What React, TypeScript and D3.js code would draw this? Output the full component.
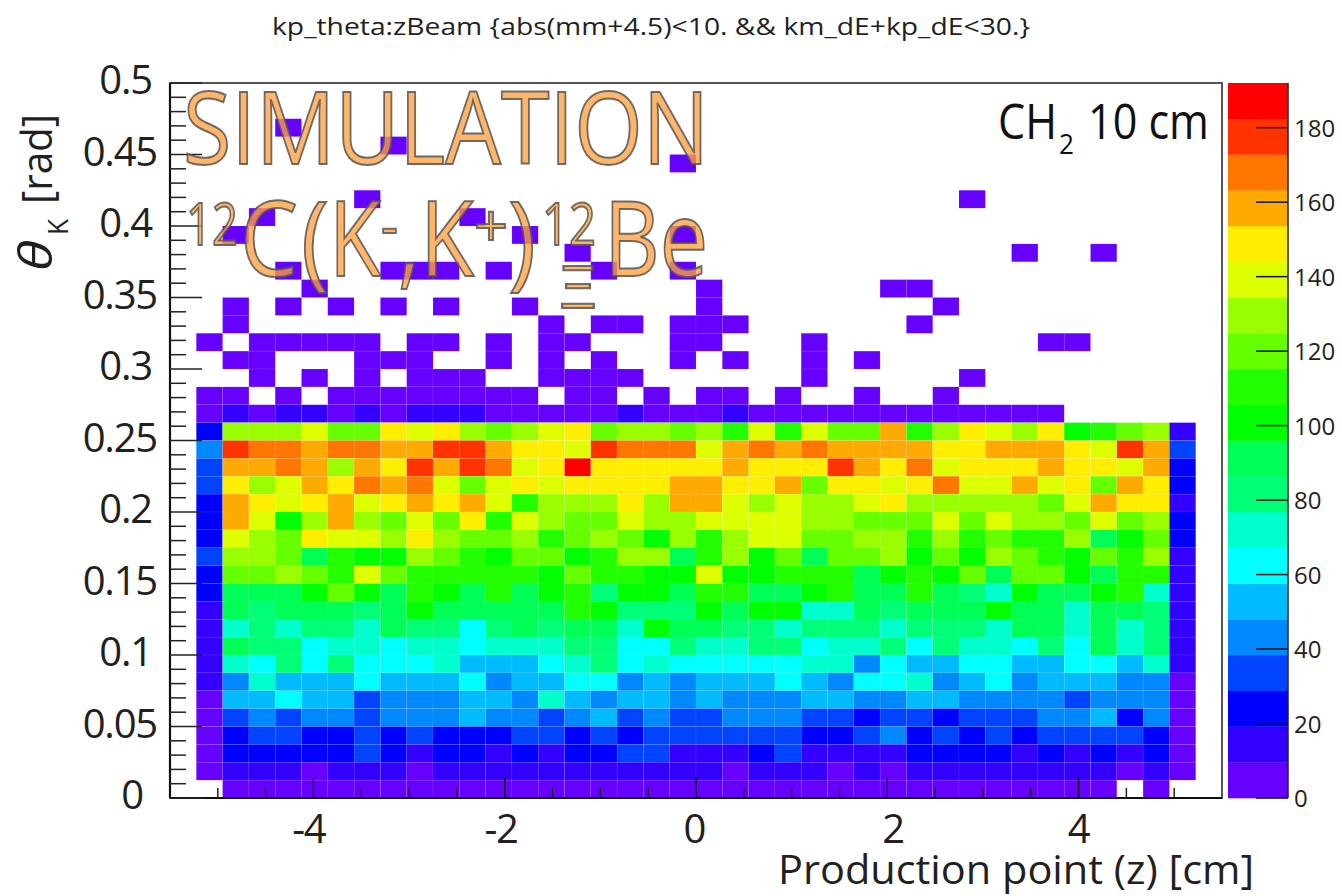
import React, { useEffect, useRef } from 'react'
import * as d3 from 'd3'

const WIDTH = 1342
const HEIGHT = 896
const FONT = '"Open Sans", sans-serif'
const INK = '#231f20'

const titleText = 'kp_theta:zBeam {abs(mm+4.5)<10. && km_dE+kp_dE<30.}'

// ROOT rainbow palette as printed on the colour bar, bottom to top
const palette = [
  '#6600ff', '#3300ff', '#0000ff', '#0044ff', '#0088ff', '#00bbff', '#00ffff', '#00ffcc', '#00ff77', '#00ff55',
  '#00ff00', '#22ff00', '#66ff00', '#99ff00', '#ddff00', '#ffee00', '#ffaa00', '#ff7700', '#ff3300', '#ff0000',
]
const zMax = 192
const zTicks = [0, 20, 40, 60, 80, 100, 120, 140, 160, 180]
const xMajor = [-4, -2, 0, 2, 4]
const xMinor = [-5, -4.5, -3.5, -3, -2.5, -1.5, -1, -0.5, 0.5, 1, 1.5, 2.5, 3, 3.5, 4.5, 5]
const yMajor = ['0', '0.05', '0.1', '0.15', '0.2', '0.25', '0.3', '0.35', '0.4', '0.45', '0.5']
const xLabels = [
  { label: '-4', at: -4.05 },
  { label: '-2', at: -2.04 },
  { label: '0', at: -0.02 },
  { label: '2', at: 2.06 },
  { label: '4', at: 4 },
]

// rows counted from the top of the 40x40 histogram
// upper tail: single-band cells, list of occupied columns per row
const tailRows: [number, number[]][] = [
  [2, [4]],
  [3, [8]],
  [4, [19]],
  [6, [7, 30]],
  [7, [3, 11]],
  [8, [2, 13, 19]],
  [9, [15, 32, 35]],
  [10, [4, 8, 9, 10, 12, 16, 19]],
  [11, [5, 20, 27, 28]],
  [12, [2, 4, 6, 8, 10, 13, 20, 29]],
  [13, [2, 14, 16, 17, 19, 20, 21, 28]],
  [14, [1, 3, 4, 5, 6, 7, 9, 10, 12, 14, 15, 19, 20, 24, 33, 34]],
  [15, [2, 3, 7, 8, 9, 12, 14, 16, 19, 21, 24, 26]],
  [16, [3, 5, 7, 9, 10, 11, 14, 15, 16, 17, 24, 30]],
  [17, [1, 2, 4, 6, 7, 8, 9, 10, 11, 12, 13, 15, 16, 18, 20, 21, 23, 26, 29]],
]
const tailCount = 5

// main body: counts for columns 1..38, first row is row 18
const row18 = [5, 14, 5, 14, 14, 5, 14, 5, 14, 14, 14, 5, 5, 5, 5, 5, 14, 5, 5, 5, 14, 5, 5, 5, 5, 5, 5, 5, 5, 5, 5, 5, 5, 0, 0, 0, 0, 0]
const row19 = [24, 130, 130, 130, 139, 120, 120, 149, 139, 149, 130, 120, 130, 139, 149, 120, 130, 130, 120, 130, 110, 139, 110, 139, 120, 120, 158, 110, 130, 149, 139, 130, 149, 101, 110, 120, 130, 14]
const row20 = [43, 178, 168, 168, 158, 168, 168, 158, 158, 178, 178, 158, 149, 149, 139, 178, 168, 168, 168, 139, 158, 168, 158, 168, 158, 158, 158, 158, 149, 149, 158, 158, 158, 149, 139, 178, 158, 34]
const row21 = [34, 158, 158, 168, 158, 130, 158, 149, 178, 158, 178, 168, 139, 149, 187, 149, 149, 149, 149, 149, 158, 149, 149, 149, 178, 158, 149, 168, 139, 149, 149, 149, 158, 149, 149, 139, 158, 24]
const row22 = [34, 149, 130, 139, 158, 149, 168, 158, 168, 139, 120, 139, 149, 139, 149, 149, 149, 149, 158, 158, 149, 149, 158, 120, 149, 149, 139, 149, 168, 139, 139, 158, 139, 149, 120, 158, 149, 24]
const row23 = [24, 158, 149, 139, 149, 158, 139, 149, 158, 149, 158, 139, 110, 130, 130, 130, 149, 130, 158, 158, 139, 130, 139, 130, 130, 139, 149, 130, 130, 130, 130, 130, 120, 139, 158, 149, 149, 14]
const row24 = [24, 158, 139, 101, 130, 158, 130, 120, 139, 120, 149, 110, 139, 130, 120, 120, 139, 130, 130, 139, 139, 139, 139, 130, 130, 120, 120, 120, 139, 120, 139, 130, 130, 120, 139, 120, 130, 24]
const row25 = [24, 139, 130, 120, 149, 139, 139, 130, 149, 130, 120, 120, 130, 110, 120, 130, 120, 101, 130, 110, 130, 139, 139, 120, 120, 130, 130, 110, 130, 110, 120, 110, 110, 130, 91, 101, 120, 24]
const row26 = [34, 130, 130, 120, 91, 110, 101, 101, 130, 120, 110, 101, 120, 120, 101, 110, 130, 130, 91, 110, 130, 101, 120, 91, 120, 120, 130, 101, 120, 101, 130, 120, 110, 101, 120, 110, 130, 14]
const row27 = [24, 120, 120, 130, 120, 110, 139, 120, 110, 110, 110, 110, 110, 101, 120, 110, 110, 101, 101, 139, 101, 101, 110, 110, 110, 91, 101, 110, 101, 120, 91, 120, 120, 101, 91, 110, 110, 14]
const row28 = [24, 91, 91, 91, 101, 120, 101, 91, 110, 101, 91, 110, 91, 101, 110, 82, 101, 101, 91, 110, 110, 91, 91, 101, 110, 91, 91, 110, 91, 82, 72, 101, 91, 91, 101, 110, 72, 14]
const row29 = [14, 91, 82, 91, 91, 91, 82, 91, 101, 91, 91, 91, 91, 91, 110, 101, 82, 82, 82, 101, 91, 101, 101, 72, 72, 91, 82, 91, 91, 91, 101, 91, 91, 72, 91, 91, 82, 14]
const row30 = [14, 72, 82, 72, 82, 82, 72, 91, 82, 82, 62, 82, 91, 82, 91, 91, 72, 101, 91, 91, 82, 82, 72, 82, 82, 82, 72, 82, 82, 82, 72, 91, 91, 72, 91, 72, 82, 14]
const row31 = [14, 91, 82, 82, 62, 72, 72, 62, 72, 72, 62, 72, 72, 72, 82, 82, 62, 62, 82, 72, 72, 82, 82, 62, 72, 72, 82, 62, 82, 72, 72, 62, 82, 62, 91, 72, 82, 14]
const row32 = [14, 72, 62, 82, 62, 82, 62, 62, 62, 72, 53, 53, 53, 62, 72, 82, 62, 72, 62, 62, 62, 62, 62, 72, 72, 43, 62, 53, 53, 62, 62, 53, 53, 62, 62, 53, 72, 14]
const row33 = [14, 43, 72, 53, 53, 53, 62, 53, 53, 53, 62, 43, 53, 53, 62, 62, 43, 53, 43, 53, 53, 53, 62, 53, 43, 62, 62, 72, 43, 53, 62, 43, 53, 53, 53, 43, 43, 5]
const row34 = [5, 53, 53, 62, 53, 53, 34, 43, 43, 43, 53, 53, 43, 72, 53, 43, 53, 53, 43, 53, 43, 43, 43, 53, 53, 43, 43, 53, 53, 43, 43, 43, 43, 34, 43, 43, 43, 5]
const row35 = [5, 34, 43, 34, 43, 43, 34, 43, 43, 43, 53, 43, 43, 34, 43, 53, 34, 43, 34, 34, 43, 43, 43, 34, 34, 24, 34, 34, 24, 34, 34, 34, 43, 43, 53, 24, 43, 5]
const row36 = [5, 24, 34, 34, 24, 24, 34, 24, 34, 24, 24, 24, 34, 34, 24, 34, 24, 34, 34, 34, 34, 34, 34, 24, 24, 34, 43, 24, 34, 24, 34, 24, 34, 34, 34, 34, 24, 5]
const row37 = [5, 24, 24, 24, 24, 24, 34, 24, 14, 24, 24, 14, 24, 14, 24, 24, 34, 34, 14, 14, 14, 24, 34, 14, 14, 14, 14, 24, 24, 24, 24, 14, 24, 14, 24, 14, 24, 5]
const row38 = [5, 14, 14, 14, 5, 14, 14, 14, 5, 14, 14, 14, 14, 14, 14, 14, 14, 14, 14, 14, 5, 14, 14, 14, 5, 14, 5, 14, 14, 14, 14, 14, 14, 14, 14, 5, 14, 5]
const row39 = [0, 5, 5, 5, 5, 5, 5, 5, 5, 5, 5, 5, 5, 5, 5, 5, 5, 5, 5, 5, 5, 5, 5, 5, 5, 5, 5, 5, 5, 5, 5, 5, 5, 5, 5, 0, 5, 0]
const bodyRows = [row18, row19, row20, row21, row22, row23, row24, row25, row26, row27, row28, row29, row30, row31, row32, row33, row34, row35, row36, row37, row38, row39]

const App = () => {
  const ref = useRef<SVGSVGElement>(null)

  useEffect(() => {
    const svg = d3.select(ref.current)
    svg.selectAll('*').remove()

    const plot = { left: 170, right: 1222, top: 83, bottom: 798 }
    const x = d3.scaleLinear().domain([-5.5, 5.5]).range([plot.left, plot.right])
    const y = d3.scaleLinear().domain([0, 0.5]).range([plot.bottom, plot.top])
    const col = d3.scaleBand<number>().domain(d3.range(40)).range([plot.left, plot.right])
    const row = d3.scaleBand<number>().domain(d3.range(40)).range([plot.top, plot.bottom])
    const z = d3.scaleLinear().domain([0, zMax]).range([plot.bottom, plot.top])
    const color = d3.scaleQuantize<string>().domain([0, zMax]).range(palette)

    const cells: { r: number; c: number; v: number }[] = []
    tailRows.forEach(([r, cols]) => cols.forEach((c) => cells.push({ r, c, v: tailCount })))
    bodyRows.forEach((vals, i) => vals.forEach((v, j) => {
      if (v > 0) cells.push({ r: 18 + i, c: j + 1, v })
    }))

    // title
    svg.append('text')
      .attr('x', 651).attr('y', 35)
      .attr('text-anchor', 'middle')
      .attr('textLength', 758).attr('lengthAdjust', 'spacingAndGlyphs')
      .style('font-family', FONT).style('font-size', '23px').attr('fill', INK)
      .text(titleText)

    // histogram cells, faint seams as in the exported raster
    svg.append('g').selectAll('rect').data(cells).enter().append('rect')
      .attr('x', (d) => col(d.c)!)
      .attr('y', (d) => row(d.r)!)
      .attr('width', col.bandwidth())
      .attr('height', row.bandwidth())
      .attr('fill', (d) => color(d.v))
      .attr('stroke', '#ffffff').attr('stroke-opacity', 0.1).attr('stroke-width', 0.7)

    // frame
    svg.append('rect')
      .attr('x', plot.left).attr('y', plot.top)
      .attr('width', plot.right - plot.left).attr('height', plot.bottom - plot.top)
      .attr('fill', 'none').attr('stroke', '#444').attr('stroke-width', 1.8)
    svg.append('line')
      .attr('x1', plot.left).attr('x2', plot.right).attr('y1', plot.bottom).attr('y2', plot.bottom)
      .attr('stroke', '#111').attr('stroke-width', 2.2)
    svg.append('line')
      .attr('x1', plot.left).attr('x2', plot.left).attr('y1', plot.top).attr('y2', plot.bottom)
      .attr('stroke', '#111').attr('stroke-width', 2.2)

    // y axis ticks
    const yTicks = d3.range(0, 51).map((i) => i / 100)
    svg.append('g').selectAll('line').data(yTicks).enter().append('line')
      .attr('x1', plot.left)
      .attr('x2', (_, i) => plot.left + (i % 5 === 0 ? 32 : 16))
      .attr('y1', (d) => y(d)).attr('y2', (d) => y(d))
      .attr('stroke', '#222').attr('stroke-width', 1.5)
    svg.append('g').selectAll('text').data(yMajor).enter().append('text')
      .attr('x', (d) => (d.length === 4 ? 157 : d.length === 3 ? 152 : 143))
      .attr('y', (d) => y(+d) + 11)
      .attr('text-anchor', 'end')
      .style('font-family', FONT).style('font-size', '40px').attr('fill', INK)
      .attr('letter-spacing', -1.2)
      .text((d) => d)

    // x axis ticks
    svg.append('g').selectAll('line').data(xMinor).enter().append('line')
      .attr('x1', (d) => x(d)).attr('x2', (d) => x(d))
      .attr('y1', plot.bottom).attr('y2', plot.bottom - 10)
      .attr('stroke', '#222').attr('stroke-width', 1.5)
    svg.append('g').selectAll('line').data(xMajor).enter().append('line')
      .attr('x1', (d) => x(d)).attr('x2', (d) => x(d))
      .attr('y1', plot.bottom).attr('y2', plot.bottom - 21)
      .attr('stroke', '#111').attr('stroke-width', 1.5)
    svg.append('g').selectAll('text').data(xLabels).enter().append('text')
      .attr('x', (d) => x(d.at))
      .attr('y', 843)
      .attr('text-anchor', 'middle')
      .style('font-family', FONT).style('font-size', '40px').attr('fill', INK)
      .attr('letter-spacing', -1.5)
      .text((d) => d.label)

    // axis titles
    svg.append('text')
      .attr('x', 778).attr('y', 884)
      .attr('textLength', 476).attr('lengthAdjust', 'spacingAndGlyphs')
      .style('font-family', FONT).style('font-size', '40px').attr('fill', INK)
      .text('Production point (z) [cm]')
    const yTitle = (px: number, py: number, size: number, txt: string, len?: number, italic?: boolean) => {
      const t = svg.append('text')
        .attr('transform', `translate(${px},${py}) rotate(-90)`)
        .style('font-family', FONT).style('font-size', `${size}px`).attr('fill', INK)
        .style('font-style', italic ? 'italic' : 'normal')
        .text(txt)
      if (len) t.attr('textLength', len).attr('lengthAdjust', 'spacingAndGlyphs')
    }
    yTitle(52, 271, 46, 'θ', 31, true)
    yTitle(68, 235, 28, 'K', 16)
    yTitle(52, 204, 42, '[rad]', 90)

    // colour bar
    svg.append('g').selectAll('rect').data(palette).enter().append('rect')
      .attr('x', 1228)
      .attr('y', (d) => z(color.invertExtent(d)[1]))
      .attr('width', 60)
      .attr('height', (d) => z(color.invertExtent(d)[0]) - z(color.invertExtent(d)[1]) + 0.3)
      .attr('fill', (d) => d)
    svg.append('line')
      .attr('x1', 1288).attr('x2', 1288).attr('y1', plot.top).attr('y2', plot.bottom)
      .attr('stroke', '#222').attr('stroke-width', 1.5)
    svg.append('g').selectAll('line').data(zTicks).enter().append('line')
      .attr('x1', 1256).attr('x2', 1288)
      .attr('y1', (d) => z(d)).attr('y2', (d) => z(d))
      .attr('stroke', '#111').attr('stroke-width', 1.5)
    svg.append('g').selectAll('text').data(zTicks).enter().append('text')
      .attr('x', 1294)
      .attr('y', (d) => z(d) + 9)
      .style('font-family', FONT).style('font-size', '24px').attr('fill', INK)
      .text((d) => d)

    // target label
    const label = (px: number, py: number, size: number, txt: string, len: number) =>
      svg.append('text').attr('x', px).attr('y', py).attr('textLength', len).attr('lengthAdjust', 'spacingAndGlyphs')
        .style('font-family', FONT).style('font-size', `${size}px`).attr('fill', '#111').text(txt)
    label(998, 139, 50, 'CH', 59)
    label(1059, 154, 27, '2', 15)
    label(1088, 139, 50, '10 cm', 121)

    // SIMULATION overlay
    const stamp = (px: number, py: number, size: number, txt: string, len: number) =>
      svg.append('text').attr('x', px).attr('y', py).attr('textLength', len).attr('lengthAdjust', 'spacingAndGlyphs')
        .style('font-family', FONT).style('font-size', `${size}px`)
        .attr('fill', '#ffa040').attr('fill-opacity', 0.78)
        .attr('stroke', '#555').attr('stroke-opacity', 0.85).attr('stroke-width', 2)
        .text(txt)
    stamp(183, 164, 100, 'SIMULATION', 526)
    stamp(186, 245, 58, '12', 52)
    stamp(240, 276, 104, 'C', 58)
    stamp(301, 276, 104, '(', 28)
    stamp(329, 276, 104, 'K', 52)
    stamp(381, 247, 58, '-', 17)
    stamp(398, 276, 104, ',', 22)
    stamp(420, 276, 104, 'K', 54)
    stamp(474, 247, 58, '+', 34)
    stamp(508, 276, 104, ')', 28)
    stamp(542, 245, 58, '12', 54)
    stamp(560, 308, 58, 'Ξ', 36)
    stamp(604, 276, 104, 'Be', 104)
  }, [])

  return (
    <svg
      ref={ref}
      width={WIDTH}
      height={HEIGHT}
      style={{ position: 'absolute', left: 0, top: 0, display: 'block', background: '#fff' }}
    />
  )
}

export default App
